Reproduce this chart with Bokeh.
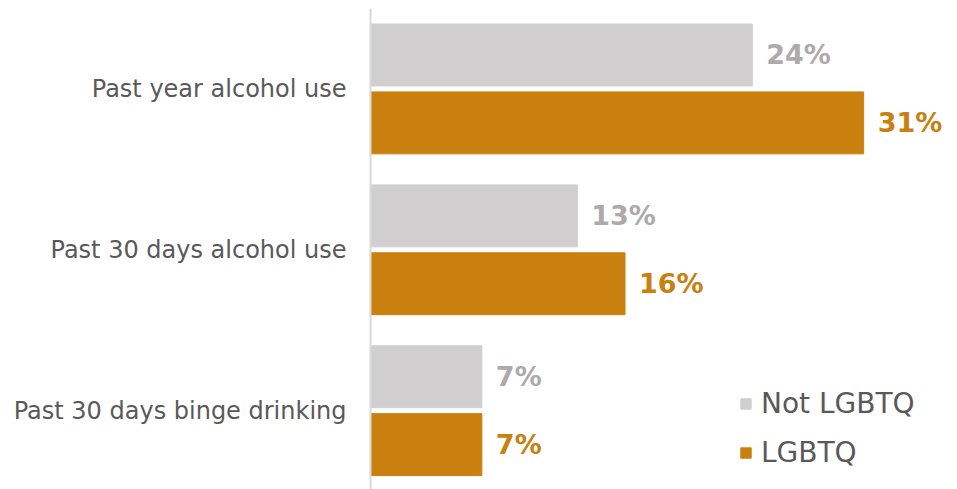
from bokeh.plotting import figure
from bokeh.models import ColumnDataSource, Range1d, FixedTicker, Legend, LegendItem, LabelSet
from bokeh.core.properties import value
from bokeh.embed import file_html
from bokeh.resources import INLINE

categories = ["Past year alcohol use", "Past 30 days alcohol use", "Past 30 days binge drinking"]
not_lgbtq = [24, 13, 7]
lgbtq = [31, 16, 7]
series_names = ["Not LGBTQ", "LGBTQ"]

GRAY = "#d0cece"
ORANGE = "#c9800f"
GRAY_TXT = "#aeaaaa"
TXT = "#595959"
FONT = "DejaVu Sans"

pos = list(range(len(categories)))
off = 0.211
h = 0.385

src_a = ColumnDataSource(dict(y=[p_ - off for p_ in pos], v=not_lgbtq,
                              lab=[f"{v}%" for v in not_lgbtq]))
src_b = ColumnDataSource(dict(y=[p_ + off for p_ in pos], v=lgbtq,
                              lab=[f"{v}%" for v in lgbtq]))

p = figure(width=957, height=489, output_backend="svg", toolbar_location=None,
           x_range=Range1d(0, 36.9), y_range=Range1d(2.49, -0.5),
           min_border_left=370, min_border_right=0, min_border_top=8, min_border_bottom=0)
p.outline_line_color = None
p.xgrid.visible = False
p.ygrid.visible = False
p.xaxis.visible = False

ra = p.hbar(y="y", right="v", left=0, height=h, source=src_a, color=GRAY)
rb = p.hbar(y="y", right="v", left=0, height=h, source=src_b, color=ORANGE)

for src, col in ((src_a, GRAY_TXT), (src_b, ORANGE)):
    p.add_layout(LabelSet(x="v", y="y", text="lab", source=src, x_offset=14,
                          text_font=value(FONT), text_font_size=value("27px"),
                          text_font_style=value("bold"),
                          text_color=value(col), text_baseline=value("middle"),
                          text_align=value("left")))

ax = p.yaxis[0]
ax.ticker = FixedTicker(ticks=pos)
ax.major_label_overrides = {i: c for i, c in enumerate(categories)}
ax.major_tick_line_color = None
ax.minor_tick_line_color = None
ax.major_tick_out = 0
ax.major_label_standoff = 24
ax.major_label_text_font = FONT
ax.major_label_text_font_size = "24px"
ax.major_label_text_color = TXT
ax.axis_line_color = "#d9d9d9"
ax.axis_line_width = 2

legend = Legend(items=[LegendItem(label=series_names[0], renderers=[ra]),
                       LegendItem(label=series_names[1], renderers=[rb])],
                location=(369, 20), orientation="vertical",
                label_text_font=FONT, label_text_font_size="28px", label_text_color=TXT,
                glyph_width=13, glyph_height=13, label_standoff=9, spacing=16,
                padding=0, margin=0, border_line_color=None, background_fill_alpha=0)
p.add_layout(legend)

open("out.html", "w").write(file_html(p, INLINE))
